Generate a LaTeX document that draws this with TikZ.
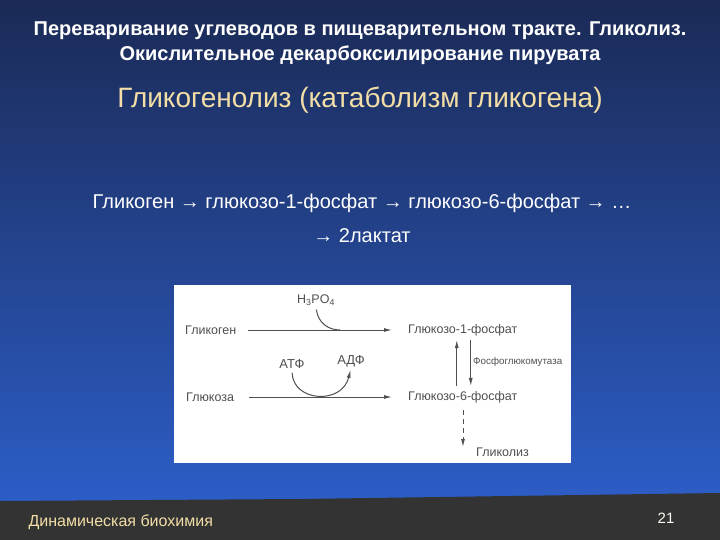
\documentclass[tikz,border=0pt]{standalone}
\usepackage{fontspec}
\setmainfont{Liberation Sans}
\usetikzlibrary{arrows.meta,positioning}
\definecolor{slidetop}{RGB}{27,42,86}
\definecolor{slidebottom}{RGB}{44,93,198}
\definecolor{footgray}{RGB}{51,51,51}
\definecolor{paleyellow}{RGB}{242,222,166}
\definecolor{inkgray}{RGB}{80,80,80}

\begin{document}
\begin{tikzpicture}[x=1pt,y=-1pt,
    lbl/.style={text=inkgray,font=\fontsize{12.5}{14}\selectfont,inner sep=1pt},
    flow/.style={draw=inkgray,line width=1pt,-{Latex[length=8pt,width=4pt]}}]
    % Slide background
    \useasboundingbox (0,0) rectangle (720,540);
    \shade[top color=slidetop,bottom color=slidebottom] (0,0) rectangle (720,500);
    \fill[footgray] (0,501) -- (300,499) -- (720,493) -- (720,540) -- (0,540) -- cycle;

    % Headings
    \node[text=white,font=\bfseries\fontsize{20}{24}\selectfont] (title) at (360,31) {Переваривание углеводов в пищеварительном тракте. Гликолиз.};
    \node[text=white,font=\bfseries\fontsize{20}{24}\selectfont] (titletwo) at (360,55) {Окислительное декарбоксилирование пирувата};
    \node[text=paleyellow,font=\fontsize{28}{32}\selectfont] (subtitle) at (360,100) {Гликогенолиз (катаболизм гликогена)};

    % Summary line
    \node[text=white,font=\fontsize{20}{24}\selectfont] (summary) at (362,203) {Гликоген → глюкозо-1-фосфат → глюкозо-6-фосфат → …};
    \node[text=white,font=\fontsize{20}{24}\selectfont] (lactate) at (362,236) {→ 2лактат};

    % Scheme panel
    \fill[white] (174,285) rectangle (571,463);

    \node[lbl,anchor=west] (glycogen) at (184,330) {Гликоген};
    \node[lbl,anchor=west] (gonep) at (407,330) {Глюкозо-1-фосфат};
    \node[lbl,anchor=west] (glucose) at (185,397) {Глюкоза};
    \node[lbl,anchor=west] (gsixp) at (407,397) {Глюкозо-6-фосфат};
    \node[lbl] (phos) at (316,300) {H\textsubscript{3}PO\textsubscript{4}};
    \node[lbl,font=\fontsize{13}{15}\selectfont] (atp) at (292,364) {АТФ};
    \node[lbl,font=\fontsize{13}{15}\selectfont] (adp) at (351,361) {АДФ};
    \node[lbl,font=\fontsize{9.8}{11}\selectfont,anchor=west] (mutase) at (472,362) {Фосфоглюкомутаза};
    \node[lbl,anchor=west] (glycolysis) at (475,452) {Гликолиз};
    \coordinate (glyend) at (463,447);

    % Reactions
    \draw[flow,shorten <=11pt,shorten >=15pt] (glycogen) -- (gonep);
    \draw[flow,shorten <=14pt,shorten >=15pt] (glucose) -- (gsixp);
    \draw[inkgray,line width=1pt,shorten <=3pt] (phos.south) .. controls +(2,16) and +(-12,0) .. (340,330);
    \draw[flow,shorten <=3pt,shorten >=2pt] (atp.south) .. controls (293,402) and (342,405) .. (adp.south);
    \draw[flow,shorten <=4pt,shorten >=3pt] ([xshift=-6pt]gsixp.north) -- ([xshift=-6pt]gonep.south);
    \draw[flow,shorten <=3pt,shorten >=4pt] ([xshift=8pt]gonep.south) -- ([xshift=8pt]gsixp.north);
    \draw[flow,dash pattern=on 5pt off 4pt,shorten <=6pt] (glyend |- gsixp.south) -- (glyend);

    % Footer
    \node[text=paleyellow,font=\fontsize{16}{18}\selectfont,anchor=west] (course) at (25,522) {Динамическая биохимия};
    \node[text=white!85!paleyellow,font=\fontsize{15}{17}\selectfont] (page) at (666,518) {21};
\end{tikzpicture}
\end{document}
